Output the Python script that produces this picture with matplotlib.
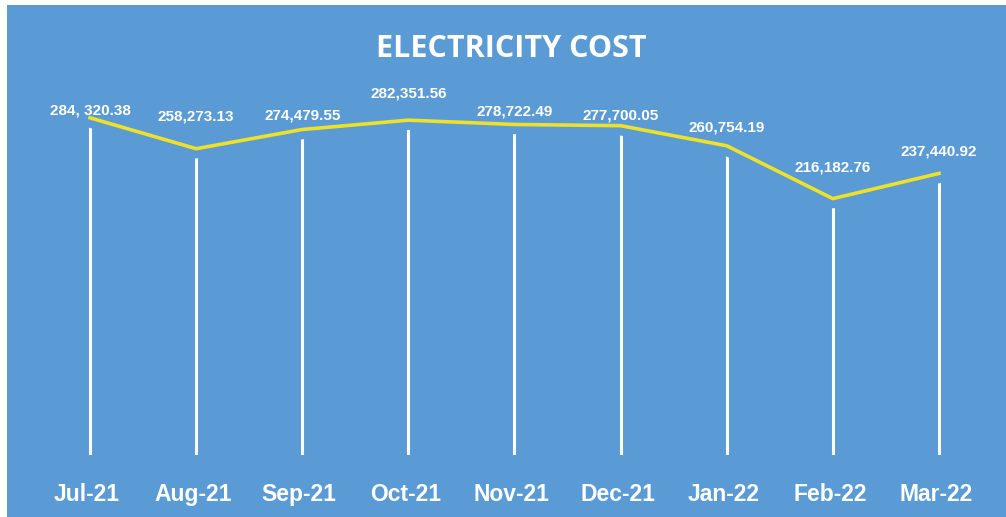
import matplotlib
matplotlib.use("Agg")
import matplotlib.pyplot as plt
import matplotlib.patheffects as pe
import matplotlib.transforms as mtransforms
from matplotlib.patches import Rectangle

months = ["Jul-21", "Aug-21", "Sep-21", "Oct-21", "Nov-21", "Dec-21", "Jan-22", "Feb-22", "Mar-22"]
cost = [284320.38, 258273.13, 274479.55, 282351.56, 278722.49, 277700.05, 260754.19, 216182.76, 237440.92]
cost_labels = ["284, 320.38", "258,273.13", "274,479.55", "282,351.56", "278,722.49",
               "277,700.05", "260,754.19", "216,182.76", "237,440.92"]

# vertical offset (points) of each data label centre above its marker
label_dy = [5, 23, 10, 19.5, 9.5, 7, 13, 22.3, 15.8]

blue = "#5B9BD5"
yellow = "#EDE12A"

fig = plt.figure(figsize=(10.06, 5.17), dpi=100, facecolor="white")
fig.patches.append(Rectangle((7 / 1006, 0), 1, 1 - 5 / 517, transform=fig.transFigure,
                             facecolor=blue, edgecolor="none", zorder=-10))

ax = fig.add_axes([37 / 1006, 62 / 517, 955 / 1006, 370 / 517])
ax.set_facecolor("none")
x = range(len(months))

ax.vlines(x, 0, cost, color="white", lw=2.2, zorder=1)
ax.plot(x, cost, color=yellow, lw=2.6, zorder=3,
        path_effects=[pe.Stroke(linewidth=14, foreground=blue), pe.Normal()])

for xi, v, lab, dy in zip(x, cost, cost_labels, label_dy):
    ax.annotate(lab, (xi, v), xytext=(0, dy), textcoords="offset points",
                ha="center", va="center", color="white", fontsize=11,
                fontweight="bold", family="Liberation Sans", zorder=4)

ax.set_xlim(-0.5, len(months) - 0.5)
ax.set_ylim(0, 312000)
ax.set_xticks(list(x))
ax.set_xticklabels(months, color="white", fontsize=16.5, fontweight="bold",
                   family="Liberation Sans")
ax.tick_params(axis="x", length=0, pad=20)
# month labels sit a little left of the drop lines
shift = mtransforms.ScaledTranslation(-3 / 100, 0, fig.dpi_scale_trans)
for t in ax.get_xticklabels():
    t.set_transform(t.get_transform() + shift)
ax.set_yticks([])
for s in ax.spines.values():
    s.set_visible(False)

fig.text(511 / 1006, 1 - 49 / 517, "ELECTRICITY COST", ha="center", va="center",
         color="white", fontsize=22, fontweight="bold", family="Open Sans")

fig.savefig("out.png", dpi=100, facecolor="white")
